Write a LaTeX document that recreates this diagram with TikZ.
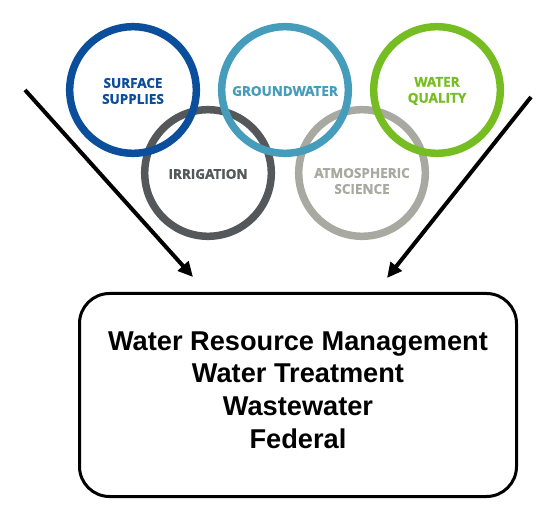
\documentclass[tikz,border=0pt]{standalone}
\usepackage{fontspec}
\usetikzlibrary{arrows.meta}
\newfontfamily\ringfont{Open Sans}[BoldFeatures={FakeBold=1.2}]
\newfontfamily\boxfont{Liberation Sans}
\definecolor{cSurf}{HTML}{0B4E9B}
\definecolor{cGround}{HTML}{469DBB}
\definecolor{cQual}{HTML}{76BD22}
\definecolor{cIrr}{HTML}{54585B}
\definecolor{cAtm}{HTML}{A8A9A1}
\begin{document}
\begin{tikzpicture}[x=1pt,y=-1pt,
  ring/.style={circle,draw=#1,line width=7.5pt,minimum size=126.6pt,inner sep=0pt},
  ringlabel/.style={text=#1,font=\ringfont\bfseries\fontsize{13.5}{16}\selectfont,align=center,inner sep=0pt},
  arr/.style={line width=4pt,-{Triangle[length=15pt,width=14pt]}},
  box/.style={draw,line width=3pt,rounded corners=30pt,minimum width=437pt,minimum height=203pt,inner sep=0pt}]
\useasboundingbox (0,0) rectangle (557,518);
% bottom row rings
\node[ring=cIrr] (irr) at (208,173) {};
\node[ring=cAtm] (atm) at (362,173) {};
% top row rings
\node[ring=cSurf] (surf) at (133,90) {};
\node[ring=cGround] (ground) at (285,90) {};
\node[ring=cQual] (qual) at (437,90) {};
% labels
\node[ringlabel=cSurf] (surfT) at (133,91) {SURFACE\\SUPPLIES};
\node[ringlabel=cGround] (groundT) at (285,91) {GROUNDWATER};
\node[ringlabel=cQual] (qualT) at (437,91) {WATER\\QUALITY};
\node[ringlabel=cIrr] (irrT) at (208,174) {IRRIGATION};
\node[ringlabel=cAtm] (atmT) at (362,181) {ATMOSPHERIC\\SCIENCE};
% box
\node[box] (bx) at (298,395) {};
\node[font=\boxfont\bfseries\fontsize{27.2}{32.6}\selectfont,align=center,inner sep=0pt] (bxT) at (298,390)
  {Water Resource Management\\Water Treatment\\Wastewater\\Federal};
% arrows
\coordinate (ls) at (25,90);
\coordinate (le) at (193,277);
\coordinate (rs) at (531,97);
\coordinate (re) at (387,278);
\draw[arr] (ls) -- (le);
\draw[arr] (rs) -- (re);
\end{tikzpicture}
\end{document}
